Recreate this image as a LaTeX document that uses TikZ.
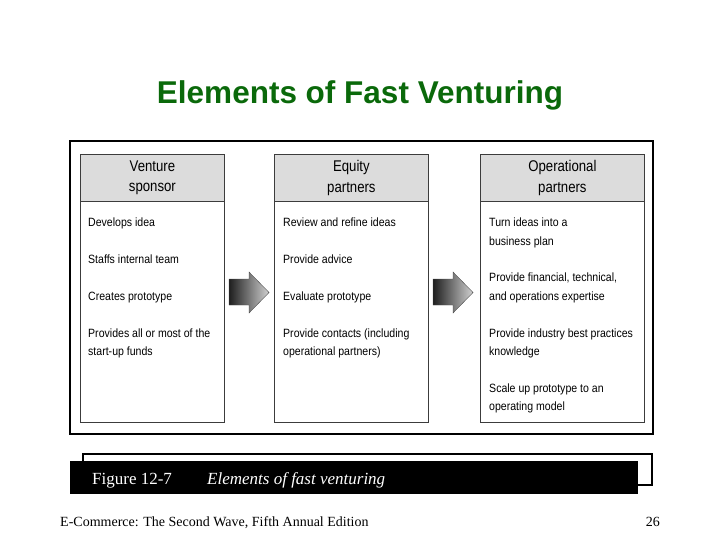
\documentclass[tikz,border=0pt]{standalone}
\usepackage{fontspec}
\setmainfont{Liberation Serif}
\newfontfamily\titlefont{Liberation Sans}
\newfontfamily\boxfont[FakeStretch=0.88]{Liberation Sans}
\newfontfamily\headfont[FakeStretch=0.85]{Liberation Sans}
\definecolor{titlegreen}{RGB}{10,105,10}
\definecolor{headgray}{RGB}{220,220,220}
\definecolor{boxline}{RGB}{60,60,60}
\tikzset{
  titlestyle/.style={anchor=base, inner sep=0pt, text=titlegreen, font=\titlefont\bfseries\fontsize{31.5}{36}\selectfont},
  headbox/.style={draw=boxline, line width=0.8pt, fill=headgray, anchor=north west, minimum width=144pt, minimum height=47pt, inner sep=0pt, align=center, font=\headfont\fontsize{15.5}{20.5}\selectfont},
  bodybox/.style={draw=boxline, line width=0.8pt, fill=white, anchor=north west, minimum width=144pt, minimum height=221pt, inner sep=0pt},
  txt/.style={anchor=base west, inner sep=0pt, font=\boxfont\fontsize{12}{14}\selectfont},
  bigarrow/.style={left color=black!88, right color=black!18, draw=black!70, line width=0.4pt},
  figtxt/.style={anchor=base west, inner sep=0pt, text=white, font=\fontsize{17}{20}\selectfont},
  foot/.style={inner sep=0pt, font=\fontsize{14}{16}\selectfont}
}
\begin{document}
\begin{tikzpicture}[x=1pt,y=-1pt]
\useasboundingbox (0,0) rectangle (720,540);
% title
\node[titlestyle] (title) at (360,104) {Elements of Fast Venturing};
% outer frame
\draw[line width=2pt] (70,141) rectangle (653,434);
% columns
\node[headbox] (h1) at (80,154) {Venture\\sponsor};
\node[bodybox] (b1) at (80,201) {};
\node[headbox, minimum width=154pt] (h2) at (274,154) {Equity\\partners};
\node[bodybox, minimum width=154pt] (b2) at (274,201) {};
\node[headbox, minimum width=164pt] (h3) at (480,154) {Operational\\partners};
\node[bodybox, minimum width=164pt] (b3) at (480,201) {};
% column 1 text
\node[txt] (t11) at (88,226.5) {Develops idea};
\node[txt] (t12) at (88,263.5) {Staffs internal team};
\node[txt] (t13) at (88,300.5) {Creates prototype};
\node[txt] (t14) at (88,337) {Provides all or most of the};
\node[txt] (t15) at (88,355.5) {start-up funds};
% column 2 text
\node[txt] (t21) at (283,226.5) {Review and refine ideas};
\node[txt] (t22) at (283,263.5) {Provide advice};
\node[txt] (t23) at (283,300.5) {Evaluate prototype};
\node[txt] (t24) at (283,337) {Provide contacts (including};
\node[txt] (t25) at (283,355.5) {operational partners)};
% column 3 text
\node[txt] (t31) at (489,226.5) {Turn ideas into a};
\node[txt] (t32) at (489,245) {business plan};
\node[txt] (t33) at (489,281.5) {Provide financial, technical,};
\node[txt] (t34) at (489,300) {and operations expertise};
\node[txt] (t35) at (489,337) {Provide industry best practices};
\node[txt] (t36) at (489,355.5) {knowledge};
\node[txt] (t37) at (489,392) {Scale up prototype to an};
\node[txt] (t38) at (489,410.5) {operating model};
% arrows
\shade[bigarrow] (229,279) -- (249,279) -- (249,272) -- (269,292.5) -- (249,313) -- (249,305) -- (229,305) -- cycle;
\shade[bigarrow] (433,279) -- (453,279) -- (453,272) -- (473,292.5) -- (453,313) -- (453,305) -- (433,305) -- cycle;
% figure caption
\draw[line width=1.5pt] (83,454) rectangle (652,485);
\fill[black] (70,461) rectangle (638,494);
\node[figtxt] (fig) at (92,484) {Figure 12-7};
\node[figtxt, font=\itshape\fontsize{17}{20}\selectfont] (figcap) at (207,484) {Elements of fast venturing};
% footer
\node[foot, anchor=base west] (footer) at (60,526) {E-Commerce: The Second Wave, Fifth Annual Edition};
\node[foot, anchor=base east] (page) at (660,526) {26};
\end{tikzpicture}
\end{document}
